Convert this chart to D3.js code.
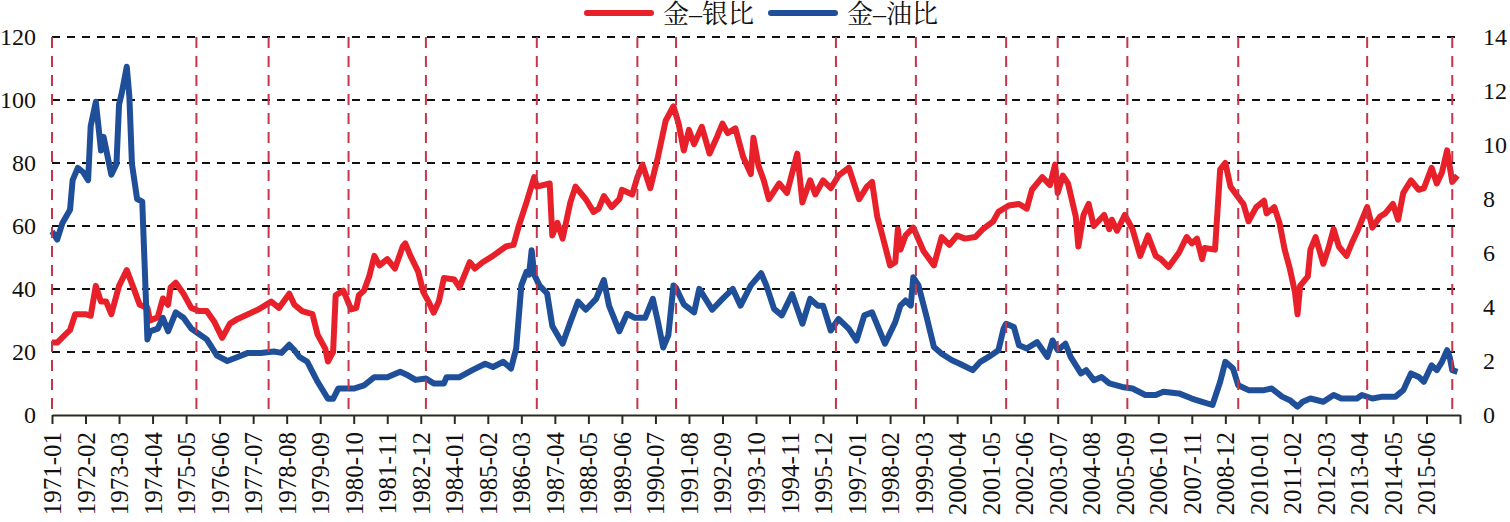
<!DOCTYPE html>
<html>
<head>
<meta charset="utf-8">
<script src="https://cdn.jsdelivr.net/npm/d3@7"></script>
<style>
  body { margin: 0; background: #fff; }
  svg { display: block; }
  .num text { font-family: "Liberation Serif", "Times New Roman", serif; }
</style>
</head>
<body>
<svg></svg>
<script>
// Gold / silver ratio (left axis)
const silverDates = ["1971-01","1971-03","1971-08","1971-10","1972-02","1972-04","1972-06","1972-08","1972-10","1972-12",
  "1973-03","1973-06","1973-09","1973-11","1974-02","1974-03","1974-06","1974-08","1974-10","1974-11",
  "1975-01","1975-04","1975-07","1975-10","1976-01","1976-04","1976-07","1976-10","1977-01","1977-05",
  "1977-09","1978-02","1978-05","1978-09","1978-11","1979-02","1979-06","1979-08","1979-11","1979-12",
  "1980-02","1980-03","1980-06","1980-09","1980-11","1980-12","1981-02","1981-04","1981-06","1981-08",
  "1981-11","1982-02","1982-05","1982-06","1982-08","1982-11","1983-01","1983-03","1983-05","1983-07",
  "1983-09","1984-01","1984-03","1984-07","1984-09","1984-12","1985-04","1985-09","1985-12","1986-02",
  "1986-05","1986-08","1986-09","1987-02","1987-03","1987-05","1987-07","1987-10","1987-12","1988-04",
  "1988-07","1988-09","1988-11","1989-02","1989-05","1989-06","1989-10","1989-12","1990-02","1990-04",
  "1990-05","1990-08","1990-11","1991-02","1991-04","1991-06","1991-08","1991-10","1992-01","1992-04",
  "1992-07","1992-09","1992-11","1993-02","1993-05","1993-08","1993-09","1993-11","1994-01","1994-03",
  "1994-07","1994-10","1995-02","1995-04","1995-07","1995-09","1995-12","1996-03","1996-06","1996-10",
  "1997-02","1997-05","1997-07","1997-09","1997-11","1998-02","1998-04","1998-05","1998-06","1998-08",
  "1998-11","1999-03","1999-07","1999-10","2000-01","2000-04","2000-07","2000-11","2001-02","2001-06",
  "2001-08","2001-12","2002-04","2002-07","2002-09","2003-01","2003-04","2003-06","2003-07","2003-09",
  "2003-11","2004-02","2004-03","2004-05","2004-07","2004-09","2005-01","2005-03","2005-04","2005-06",
  "2005-09","2005-12","2006-03","2006-06","2006-09","2006-11","2007-02","2007-06","2007-09","2007-11",
  "2008-01","2008-03","2008-04","2008-08","2008-10","2008-12","2009-02","2009-06","2009-07","2009-09",
  "2009-12","2010-03","2010-04","2010-07","2010-09","2010-11","2011-01","2011-03","2011-04","2011-05",
  "2011-08","2011-09","2011-11","2012-02","2012-04","2012-06","2012-08","2012-11","2013-01","2013-03",
  "2013-07","2013-09","2013-12","2014-02","2014-05","2014-07","2014-09","2014-12","2015-03","2015-05",
  "2015-08","2015-10","2015-12","2016-02","2016-04","2016-06"];
const silverRatio = [23,23,27,32,32,31.5,41,36,36,32,
  41,46,39.5,35,34,30,31,37,35,40.5,
  42,38.5,34,33,33,29.5,24.5,29,30.5,32,
  33.5,36,34,38.5,35,33,32,25.5,21,17,
  20,38,39.5,33.5,34,38,39.5,44,50.5,47.5,
  49.5,46.5,53.5,54.5,50.5,45.5,39,36,32.5,36,
  43.5,43,40.5,48.5,46.5,48.5,50.5,53.5,54,60,
  67.5,75.5,72.5,73.5,57,61,56,67.5,72.5,68.5,
  64.5,65.5,69.5,66,68.5,71.5,70,75.5,79.5,74.5,
  72,82,93.5,98,92.5,84,90.5,86,91.5,83,
  88.5,92.5,89.5,91,82,76.5,88,79,74.5,68.5,
  73.5,70.5,83,67.5,74.5,70,74.5,72,76,78.5,
  68.5,72.5,74,63,57,47.5,48.5,59,52.5,57,
  59.5,52,47.5,56.5,54,57,56,56.5,59,61.5,
  64.5,66.5,67,65.5,71.5,75.5,73,79.5,70.5,76,
  73.5,63,53.5,63.5,67,60,63.5,59,62,58.5,
  63.5,59,50.5,57,50.5,49.5,47,51.5,56.5,54.5,
  56,49.5,53,52.5,78,80,72.5,68,67,61.5,
  66,68,64,66,61,52.5,46.5,39,32,41,
  44,52.5,56.5,48,53,59,53.5,50.5,54.5,58,
  66,59.5,63,64,67,62,70.5,74.5,71.5,72,
  78.5,73.5,77,84,74,76];

// Gold / oil ratio (right axis)
const oilDates = ["1971-01","1971-03","1971-05","1971-08","1971-09","1971-11","1972-01","1972-03","1972-04","1972-06",
  "1972-08","1972-09","1972-12","1973-02","1973-03","1973-04","1973-06","1973-07","1973-08","1973-10",
  "1973-12","1974-02","1974-03","1974-06","1974-08","1974-10","1975-01","1975-04","1975-07","1975-10",
  "1976-01","1976-05","1976-09","1977-01","1977-05","1977-10","1978-03","1978-06","1978-09","1978-11",
  "1979-01","1979-04","1979-08","1979-12","1980-02","1980-04","1980-10","1981-02","1981-06","1981-11",
  "1982-04","1982-07","1982-10","1983-02","1983-05","1983-09","1983-10","1984-03","1984-08","1985-01",
  "1985-04","1985-08","1985-11","1986-01","1986-03","1986-05","1986-06","1986-07","1986-08","1986-10",
  "1987-01","1987-03","1987-07","1987-10","1988-01","1988-04","1988-08","1988-11","1989-01","1989-05",
  "1989-08","1989-11","1990-03","1990-06","1990-08","1990-10","1990-12","1991-02","1991-03","1991-06",
  "1991-10","1991-12","1992-05","1992-09","1993-01","1993-04","1993-08","1993-12","1994-02","1994-05",
  "1994-08","1994-12","1995-04","1995-07","1995-10","1995-12","1996-03","1996-06","1996-10","1997-01",
  "1997-04","1997-07","1997-12","1998-04","1998-06","1998-08","1998-10","1998-11","1999-01","1999-04",
  "1999-07","1999-10","2000-02","2000-05","2000-10","2001-01","2001-05","2001-08","2001-10","2001-11",
  "2002-02","2002-04","2002-07","2002-11","2003-03","2003-05","2003-07","2003-10","2003-12","2004-04",
  "2004-06","2004-09","2004-12","2005-03","2005-08","2005-12","2006-05","2006-09","2006-12","2007-06",
  "2007-11","2008-03","2008-07","2008-10","2008-12","2009-03","2009-05","2009-09","2010-03","2010-06",
  "2010-10","2011-01","2011-04","2011-06","2011-09","2012-02","2012-06","2012-09","2013-03","2013-05",
  "2013-09","2014-01","2014-06","2014-09","2014-12","2015-03","2015-05","2015-08","2015-10","2015-12",
  "2016-02","2016-03","2016-04","2016-06"];
const oilRatio = [6.8,6.5,7.1,7.6,8.7,9.15,9.0,8.7,10.7,11.6,
  9.8,10.3,8.9,9.3,11.5,11.9,12.9,11.8,9.3,8.0,
  7.9,2.8,3.1,3.2,3.6,3.1,3.8,3.6,3.2,3.0,
  2.8,2.2,2.0,2.15,2.3,2.3,2.35,2.3,2.6,2.4,
  2.15,1.97,1.23,0.6,0.6,0.98,0.98,1.1,1.4,1.4,
  1.6,1.47,1.3,1.35,1.17,1.17,1.4,1.4,1.66,1.9,
  1.78,1.97,1.72,2.46,4.8,5.3,5.2,6.1,5.2,4.8,
  4.5,3.3,2.64,3.44,4.2,3.9,4.3,5.0,4.05,3.1,
  3.75,3.6,3.6,4.3,3.44,2.5,2.95,4.8,4.7,4.1,
  3.8,4.67,3.9,4.3,4.67,4.05,4.8,5.25,4.8,3.93,
  3.69,4.48,3.38,4.3,4.05,4.05,3.13,3.56,3.19,2.76,
  3.69,3.8,2.64,3.44,4.05,4.24,4.05,5.1,4.8,3.69,
  2.52,2.27,2.03,1.9,1.66,1.97,2.2,2.4,3.2,3.38,
  3.26,2.58,2.46,2.7,2.15,2.76,2.4,2.64,2.15,1.54,
  1.66,1.29,1.41,1.17,1.04,0.98,0.74,0.74,0.86,0.8,
  0.61,0.49,0.37,1.23,1.97,1.72,1.1,0.92,0.92,0.98,
  0.68,0.55,0.31,0.49,0.61,0.49,0.74,0.61,0.61,0.74,
  0.61,0.68,0.68,0.92,1.54,1.41,1.23,1.84,1.66,1.97,
  2.4,2.15,1.66,1.6];

// Months marked with red dashed verticals
const markerDates = ["1971-01","1975-09","1978-01","1980-08","1983-02","1986-09","1989-12","1991-03",
  "1996-05","1998-12","2001-11","2003-07","2005-10","2009-05","2013-07","2016-04"];

// Category-axis labels, every 13 months
const xTickLabels = ["1971-01","1972-02","1973-03","1974-04","1975-05","1976-06","1977-07","1978-08",
  "1979-09","1980-10","1981-11","1982-12","1984-01","1985-02","1986-03","1987-04","1988-05","1989-06",
  "1990-07","1991-08","1992-09","1993-10","1994-11","1995-12","1997-01","1998-02","1999-03","2000-04",
  "2001-05","2002-06","2003-07","2004-08","2005-09","2006-10","2007-11","2008-12","2010-01","2011-02",
  "2012-03","2013-04","2014-05","2015-06"];
const axisEnd = "2016-07";
const leftTicks = [0, 20, 40, 60, 80, 100, 120];
const rightTicks = [0, 2, 4, 6, 8, 10, 12, 14];
const seriesNames = ["金–银比", "金–油比"];

const red = "#e8202a", blue = "#1f4f99";

const margin = {top: 37, right: 50, bottom: 107, left: 52},
    width = 1510 - margin.left - margin.right,
    height = 522 - margin.top - margin.bottom;

const monthIndex = s => {
  const [y, m] = s.split("-").map(Number);
  return (y - 1971) * 12 + m - 1;
};

const svgRoot = d3.select("svg")
    .attr("width", 1510)
    .attr("height", 522);
const svg = svgRoot.append("g")
    .attr("transform", `translate(${margin.left},${margin.top})`);

const x = d3.scaleLinear()
    .domain([0, monthIndex(axisEnd)])
    .range([0, width]);
const yL = d3.scaleLinear().domain([0, 120]).range([height, 0]);
const yR = d3.scaleLinear().domain([0, 14]).range([height, 0]);

// horizontal dashed grid
svg.append("g")
  .selectAll("line")
  .data(leftTicks.filter(d => d > 0))
  .join("line")
    .attr("x1", 0)
    .attr("x2", width)
    .attr("y1", d => yL(d))
    .attr("y2", d => yL(d))
    .attr("stroke", "#111")
    .attr("stroke-width", 2)
    .attr("stroke-dasharray", "8,7");

// left axis
svg.append("g")
    .attr("class", "num")
    .call(d3.axisLeft(yL).tickValues(leftTicks).tickSize(0).tickPadding(16))
    .call(g => g.select(".domain").remove())
    .selectAll("text")
    .attr("font-size", 24)
    .attr("fill", "#111");

// right axis
svg.append("g")
    .attr("class", "num")
    .attr("transform", `translate(${width},0)`)
    .call(d3.axisRight(yR).tickValues(rightTicks).tickSize(0).tickPadding(23))
    .call(g => g.select(".domain").remove())
    .selectAll("text")
    .attr("font-size", 24)
    .attr("fill", "#111");

// bottom axis
const tickPos = xTickLabels.map(monthIndex).concat([monthIndex(axisEnd)]);
const labelAt = new Map(xTickLabels.map(d => [monthIndex(d), d]));
const xAxis = svg.append("g")
    .attr("class", "num")
    .attr("transform", `translate(0,${height})`)
    .call(d3.axisBottom(x)
      .tickValues(tickPos)
      .tickFormat(d => labelAt.get(d) || "")
      .tickSize(9)
      .tickSizeOuter(0));
xAxis.select(".domain").attr("stroke", "#2b2a20").attr("stroke-width", 2);
xAxis.selectAll(".tick line").attr("stroke", "#2b2a20").attr("stroke-width", 2);
xAxis.selectAll("text")
    .attr("font-size", 25)
    .attr("fill", "#111")
    .attr("text-anchor", "end")
    .attr("transform", "rotate(-90)")
    .attr("x", -17)
    .attr("y", 0)
    .attr("dy", "0.34em");

// lines
const silverData = silverDates.map((d, i) => ({m: monthIndex(d), v: silverRatio[i]}));
const oilData = oilDates.map((d, i) => ({m: monthIndex(d), v: oilRatio[i]}));

svg.append("path")
    .datum(silverData)
    .attr("fill", "none")
    .attr("stroke", red)
    .attr("stroke-width", 6)
    .attr("stroke-linejoin", "round")
    .attr("d", d3.line().x(d => x(d.m)).y(d => yL(d.v)));

svg.append("path")
    .datum(oilData)
    .attr("fill", "none")
    .attr("stroke", blue)
    .attr("stroke-width", 6)
    .attr("stroke-linejoin", "round")
    .attr("d", d3.line().x(d => x(d.m)).y(d => yR(d.v)));

// red dashed markers
svg.append("g")
  .selectAll("line")
  .data(markerDates)
  .join("line")
    .attr("x1", d => x(monthIndex(d)))
    .attr("x2", d => x(monthIndex(d)))
    .attr("y1", 0)
    .attr("y2", height)
    .attr("stroke", "#c5364a")
    .attr("stroke-width", 2)
    .attr("stroke-dasharray", "11,8");

// legend
const legend = svgRoot.append("g");
const legendItems = [
  {name: seriesNames[0], color: red, x0: 587},
  {name: seriesNames[1], color: blue, x0: 771}
];
legendItems.forEach(it => {
  legend.append("line")
      .attr("x1", it.x0).attr("x2", it.x0 + 64)
      .attr("y1", 13).attr("y2", 13)
      .attr("stroke", it.color)
      .attr("stroke-width", 6)
      .attr("stroke-linecap", "round");
  legend.append("text")
      .attr("x", it.x0 + 76)
      .attr("y", 23)
      .attr("font-size", 26)
      .attr("fill", "#111")
      .style("font-family", "'Liberation Serif', 'Noto Serif CJK SC', 'Noto Sans CJK SC', serif")
      .text(it.name);
});
</script>
</body>
</html>
